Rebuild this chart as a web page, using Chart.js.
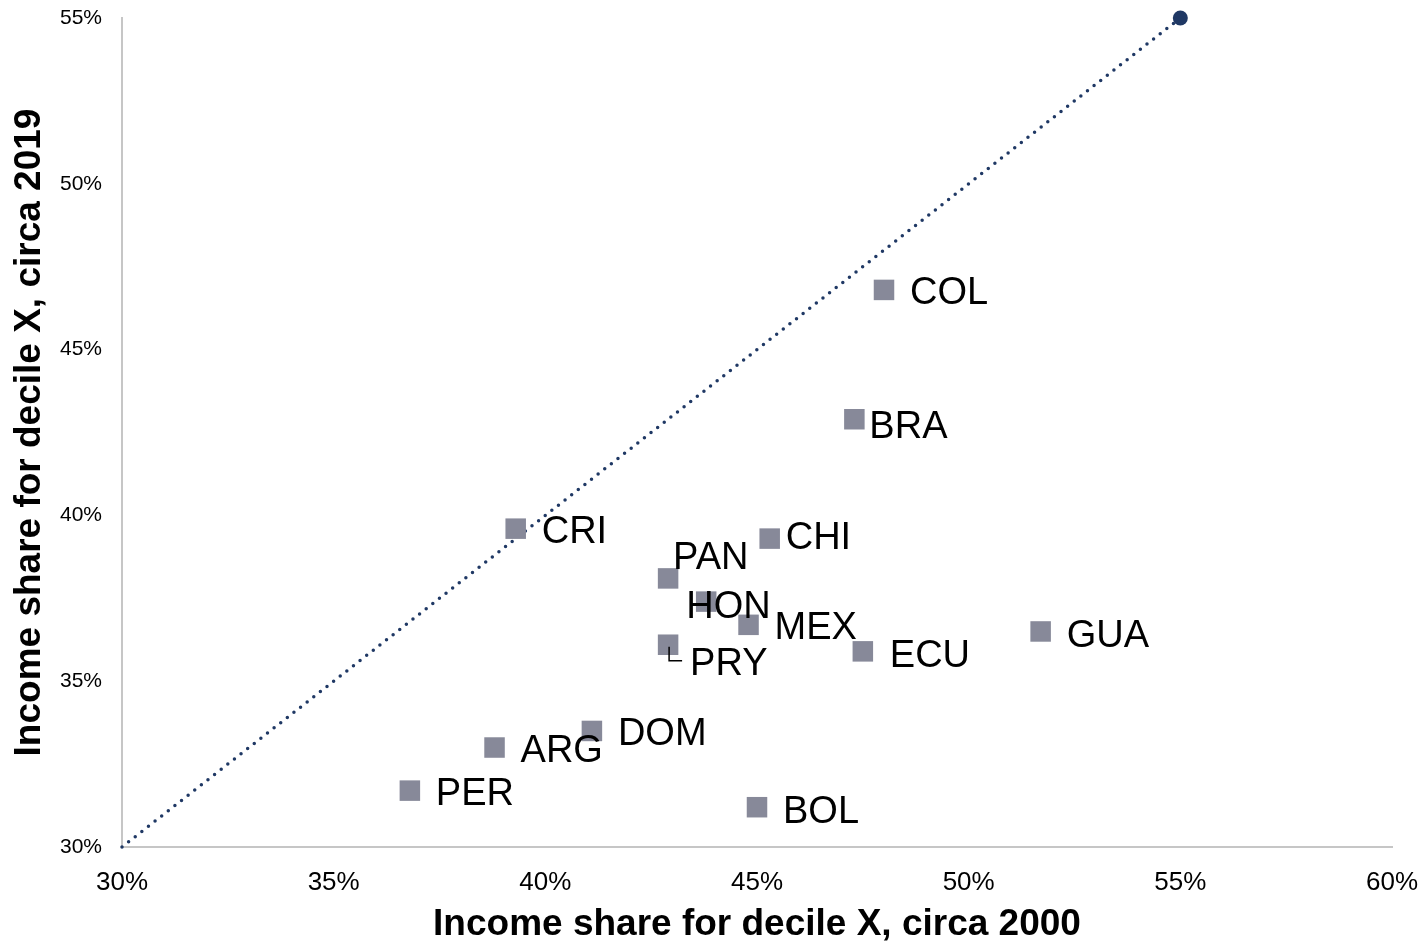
<!DOCTYPE html>
<html>
<head>
<meta charset="utf-8">
<script src="https://cdn.jsdelivr.net/npm/chart.js@4.4.1/dist/chart.umd.min.js"></script>
<style>
  html, body { margin: 0; padding: 0; background: #ffffff; }
  #wrap { width: 1422px; height: 943px; }
</style>
</head>
<body>
<div id="wrap"><canvas id="c" width="1422" height="943"></canvas></div>
<script>
// ---- Data ----
const countries = ['COL','BRA','CRI','CHI','PAN','HON','MEX','PRY','ECU','GUA','DOM','ARG','PER','BOL'];
const share2000 = [48.0, 47.3, 39.3, 45.3, 42.9, 43.8, 44.8, 42.9, 47.5, 51.7, 41.1, 38.8, 36.8, 45.0];
const share2019 = [46.8, 42.9, 39.6, 39.3, 38.1, 37.4, 36.7, 36.1, 35.9, 36.5, 33.5, 33.0, 31.7, 31.2];
const diagonalX = [30, 55];
const diagonalY = [30, 55];
const xTitle = 'Income share for decile X, circa 2000';
const yTitle = 'Income share for decile X, circa 2019';

// ---- Label placement (style, not data) ----
const labelOffsets = {
  COL: [26, 4], BRA: [15, 8], CRI: [26, 4], CHI: [16, 0], PAN: [5, -20],
  HON: [-20, 6], MEX: [26, 4], PRY: [22, 20], ECU: [27, 5], GUA: [26, 5],
  DOM: [26, 4], ARG: [26, 4], PER: [26, 4], BOL: [26, 5]
};

Chart.defaults.font.family = "'Liberation Sans', Arial, sans-serif";
Chart.defaults.color = '#000000';

const labelPlugin = {
  id: 'pointLabels',
  afterDatasetsDraw(chart) {
    const ctx = chart.ctx;
    const meta = chart.getDatasetMeta(0);
    ctx.save();
    ctx.font = "38px 'Liberation Sans', Arial, sans-serif";
    ctx.fillStyle = '#000000';
    ctx.textBaseline = 'middle';
    ctx.textAlign = 'left';
    meta.data.forEach((pt, i) => {
      const name = countries[i];
      const off = labelOffsets[name] || [26, 0];
      ctx.fillText(name, pt.x + off[0], pt.y + off[1]);
      if (name === 'PRY') {
        ctx.strokeStyle = '#000000';
        ctx.lineWidth = 1.5;
        ctx.beginPath();
        ctx.moveTo(pt.x + 1, pt.y + 2);
        ctx.lineTo(pt.x + 1, pt.y + 16);
        ctx.lineTo(pt.x + 14, pt.y + 16);
        ctx.stroke();
      }
    });
    ctx.restore();
  }
};

new Chart(document.getElementById('c'), {
  type: 'scatter',
  data: {
    datasets: [
      {
        label: 'Countries',
        data: countries.map((c, i) => ({ x: share2000[i], y: share2019[i] })),
        pointStyle: 'rect',
        pointRadius: 14.5,
        pointHoverRadius: 14.5,
        backgroundColor: '#878999',
        borderWidth: 0,
        clip: false
      },
      {
        type: 'line',
        label: 'Diagonal',
        data: diagonalX.map((x, i) => ({ x: x, y: diagonalY[i] })),
        borderColor: '#1f3864',
        backgroundColor: '#1f3864',
        borderWidth: 3.5,
        borderDash: [0, 8.4],
        borderCapStyle: 'round',
        pointRadius: [0, 7.5],
        pointHoverRadius: [0, 7.5],
        pointBorderWidth: 0,
        fill: false,
        tension: 0,
        clip: false
      }
    ]
  },
  plugins: [labelPlugin],
  options: {
    responsive: false,
    animation: false,
    devicePixelRatio: 1,
    layout: { padding: { top: 18, right: 30, left: 0, bottom: 0 } },
    plugins: {
      legend: { display: false },
      tooltip: { enabled: false }
    },
    scales: {
      x: {
        type: 'linear',
        min: 30, max: 60,
        grid: { display: false, drawTicks: false },
        border: { display: true, color: '#c6c6c6', width: 2 },
        ticks: {
          stepSize: 5,
          padding: 20,
          font: { size: 26 },
          color: '#000000',
          callback: v => v + '%'
        },
        title: {
          display: true,
          text: xTitle,
          font: { size: 37, weight: 'bold', lineHeight: 1.0 },
          color: '#000000',
          padding: { top: 0, bottom: 0 }
        },
        afterFit(scale) {
          scale.height = 96;
          scale.paddingLeft = 0;
          scale.paddingRight = 0;
        }
      },
      y: {
        type: 'linear',
        min: 30, max: 55,
        grid: { display: false, drawTicks: false },
        border: { display: true, color: '#c6c6c6', width: 2 },
        ticks: {
          stepSize: 5,
          padding: 20,
          font: { size: 21 },
          color: '#000000',
          callback: v => v + '%'
        },
        title: {
          display: true,
          text: yTitle,
          font: { size: 37, weight: 'bold', lineHeight: 1.0 },
          color: '#000000',
          padding: { top: 11, bottom: 0 }
        },
        afterFit(scale) {
          scale.width = 122;
          scale.paddingTop = 0;
          scale.paddingBottom = 0;
        }
      }
    }
  }
});
</script>
</body>
</html>
